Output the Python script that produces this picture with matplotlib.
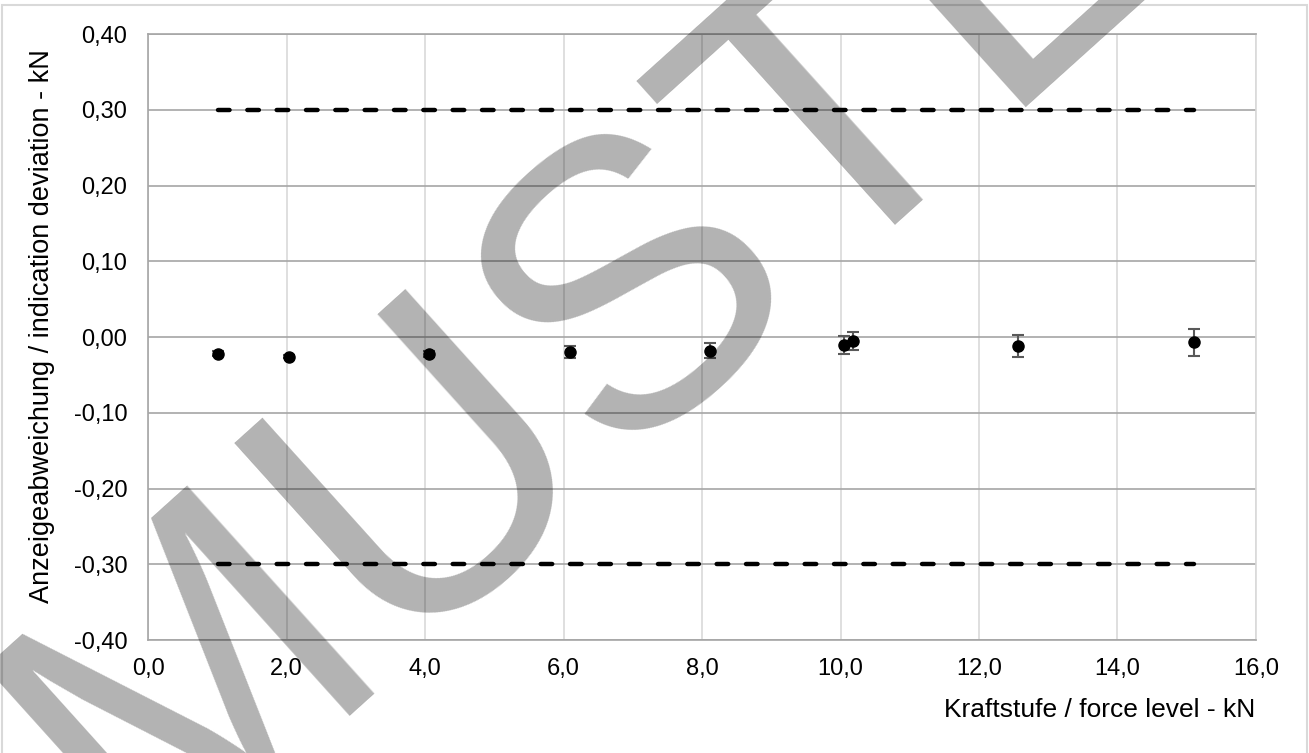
import matplotlib
matplotlib.use("Agg")
import matplotlib.pyplot as plt
from matplotlib.patches import Rectangle

plt.rcParams['font.family'] = ['Liberation Sans', 'DejaVu Sans']

# Kraftstufe / Anzeigeabweichung / Messunsicherheit (kN)
force = [1.01, 2.04, 4.06, 6.09, 8.12, 10.05, 10.18, 12.57, 15.10]
deviation = [-0.022, -0.026, -0.022, -0.020, -0.018, -0.011, -0.005, -0.012, -0.007]
uncertainty = [0.003, 0.002, 0.004, 0.008, 0.010, 0.012, 0.012, 0.015, 0.018]
limit = 0.30

x_ticks = [0, 2, 4, 6, 8, 10, 12, 14, 16]
y_ticks = [-0.4, -0.3, -0.2, -0.1, 0.0, 0.1, 0.2, 0.3, 0.4]

fig = plt.figure(figsize=(13.09, 7.53), dpi=100)
ax = fig.add_axes([0.1131, 0.150, 0.8464, 0.8048])

# outer chart frame (bottom edge lies outside the picture)
fig.patches.append(Rectangle((0.0015, -0.05), 0.997, 1.0434, transform=fig.transFigure,
                             fill=False, edgecolor='#d9d9d9', linewidth=1.5))

# limit lines
ax.plot([force[0], force[-1]], [limit, limit], color='black', lw=3.2,
        dashes=(2.6, 4.0), dash_capstyle='round', zorder=3)
ax.plot([force[0], force[-1]], [-limit, -limit], color='black', lw=3.2,
        dashes=(2.6, 4.0), dash_capstyle='round', zorder=3)

ax.errorbar(force, deviation, yerr=uncertainty, fmt='o', color='black', markersize=8,
            ecolor='#595959', elinewidth=1.5, capsize=4.5, capthick=1.5, zorder=4)

ax.set_xlim(0, 16)
ax.set_ylim(-0.4, 0.4)
ax.set_xticks(x_ticks)
ax.set_yticks(y_ticks)
ax.set_xticklabels([f"{v:.1f}".replace('.', ',') for v in x_ticks])
ax.set_yticklabels([f"{v:.2f}".replace('.', ',').replace('-0,00', '0,00') for v in y_ticks])
ax.tick_params(length=0, labelsize=17)
ax.tick_params(axis='y', pad=15)
ax.tick_params(axis='x', pad=13)

ax.grid(axis='y', color='#a6a6a6', lw=1.2)
ax.grid(axis='x', color='#d9d9d9', lw=1.2)
ax.set_axisbelow(True)
for side in ['top', 'bottom', 'left']:
    ax.spines[side].set_color('#a6a6a6')
    ax.spines[side].set_linewidth(1.2)
ax.spines['right'].set_color('#d9d9d9')
ax.spines['right'].set_linewidth(1.2)

fig.text(1255 / 1309, 1 - 717 / 753, "Kraftstufe / force level - kN", ha='right',
         va='baseline', fontsize=19)
fig.text(42 / 1309, 1 - 326 / 753, "Anzeigeabweichung / indication deviation - kN",
         rotation=90, ha='center', va='center', fontsize=19.5)

# watermark
fig.text(140 / 1309, 1 - 875 / 753, "MUSTER", rotation=42, rotation_mode='anchor',
         ha='left', va='baseline', fontsize=292, color='black', alpha=0.3, zorder=10)

fig.savefig("out.png", dpi=100)
